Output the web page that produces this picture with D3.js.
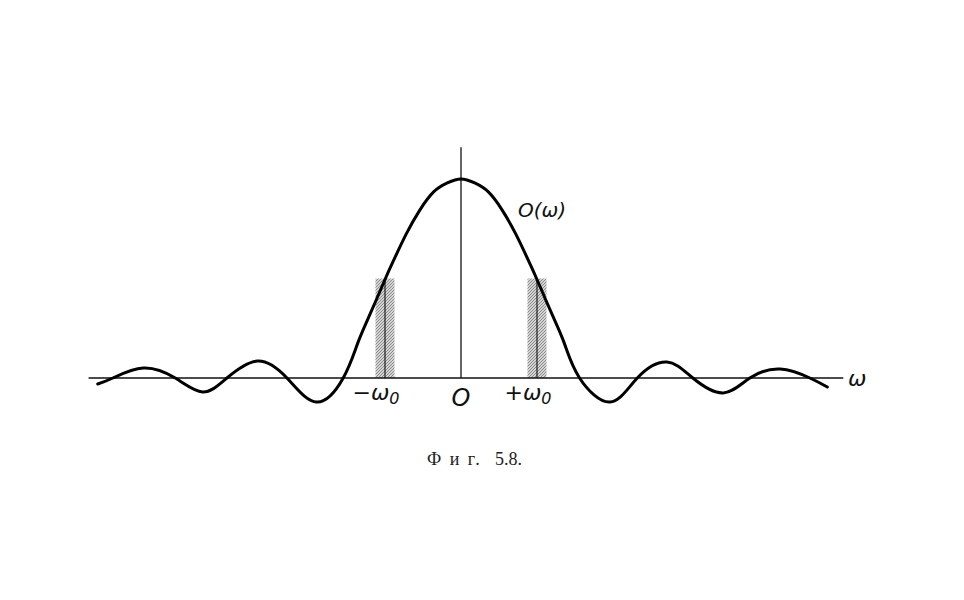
<!DOCTYPE html>
<html>
<head>
<meta charset="utf-8">
<script src="https://cdn.jsdelivr.net/npm/d3@7"></script>
<style>
  body { margin: 0; background: #fff; }
  svg { display: block; }
  .lbl { font-family: "DejaVu Sans", sans-serif; font-style: oblique; fill: #111; }
  .cap { font-family: "Liberation Serif", serif; fill: #222; }
</style>
</head>
<body>
<svg id="chart" width="964" height="600"></svg>
<script>
// curve O(w), w in units of w0, O normalised to 1 at w = 0
const omega = [-4.78, -4.58, -4.18, -3.76, -3.40, -3.08, -2.68, -2.29, -1.90, -1.55,
  -1.36, -1.20, -1.00, -0.90, -0.72, -0.54, -0.36, -0.18, 0,
  0.18, 0.36, 0.54, 0.72, 0.90, 1.00, 1.20, 1.36, 1.56,
  1.96, 2.32, 2.71, 3.05, 3.45, 3.80, 4.20, 4.59, 4.82];
const response = [-0.030, 0, 0.050, 0, -0.070, 0, 0.085, 0, -0.121, 0,
  0.174, 0.318, 0.495, 0.580, 0.724, 0.845, 0.935, 0.980, 1,
  0.980, 0.935, 0.845, 0.724, 0.580, 0.495, 0.318, 0.174, 0,
  -0.121, 0, 0.080, 0, -0.075, 0, 0.045, 0, -0.045];

// shaded bands at -w0 and +w0
const bandCentres = [-1, 1];
const bandWidth = 0.25;
const bandHeight = 0.50;

const axisRange = [-4.9, 5.03];
const axisTop = 1.16;

const tickLabels = [
  { w: -1, text: "−ω", sub: "0" },
  { w: 0, text: "O", sub: "" },
  { w: 1, text: "+ω", sub: "0" }
];

const svg = d3.select("#chart");
const x = d3.scaleLinear().domain([0, 1]).range([461, 537]);
const y = d3.scaleLinear().domain([0, 1]).range([378, 179]);

// hatch pattern for the bands
const defs = svg.append("defs");
const pat = defs.append("pattern")
  .attr("id", "hatch").attr("patternUnits", "userSpaceOnUse")
  .attr("width", 3).attr("height", 3);
pat.append("rect").attr("width", 3).attr("height", 3).attr("fill", "#d4d4d4");
pat.append("path").attr("d", "M0,3 L3,0 M-1,1 L1,-1 M2,4 L4,2")
  .attr("stroke", "#6a6a6a").attr("stroke-width", 0.7);

svg.selectAll("rect.band")
  .data(bandCentres)
  .enter().append("rect")
  .attr("class", "band")
  .attr("x", d => x(d - bandWidth / 2))
  .attr("width", x(bandWidth) - x(0))
  .attr("y", y(bandHeight))
  .attr("height", y(0) - y(bandHeight))
  .attr("fill", "url(#hatch)");

svg.selectAll("line.mark")
  .data(bandCentres)
  .enter().append("line")
  .attr("class", "mark")
  .attr("x1", d => x(d)).attr("x2", d => x(d))
  .attr("y1", y(bandHeight)).attr("y2", y(0))
  .attr("stroke", "#111").attr("stroke-width", 1.1);

// axes
svg.append("line")
  .attr("x1", x(axisRange[0])).attr("x2", x(axisRange[1]))
  .attr("y1", y(0)).attr("y2", y(0))
  .attr("stroke", "#111").attr("stroke-width", 1.6);
svg.append("line")
  .attr("x1", x(0)).attr("x2", x(0))
  .attr("y1", y(0)).attr("y2", y(axisTop))
  .attr("stroke", "#111").attr("stroke-width", 1.3);

// curve
const pts = omega.map((w, i) => [w, response[i]]);
const line = d3.line()
  .x(d => x(d[0])).y(d => y(d[1]))
  .curve(d3.curveNatural);
svg.append("path")
  .datum(pts)
  .attr("d", line)
  .attr("fill", "none")
  .attr("stroke", "#000")
  .attr("stroke-width", 3)
  .attr("stroke-linecap", "round");

// tick labels
tickLabels.forEach(t => {
  const tx = svg.append("text").attr("class", "lbl")
    .attr("x", x(t.w)).attr("dx", t.sub ? -9 : 0)
    .attr("y", t.sub ? 400 : 406)
    .attr("text-anchor", "middle")
    .attr("font-size", t.sub ? 22 : 24);
  tx.append("tspan").text(t.text);
  if (t.sub) tx.append("tspan").attr("font-size", 16).attr("dy", 4).text(t.sub);
});

// axis name and curve name
svg.append("text").attr("class", "lbl")
  .attr("x", 848).attr("y", 386).attr("font-size", 22).text("ω");
svg.append("text").attr("class", "lbl")
  .attr("x", 518).attr("y", 217).attr("font-size", 20).text("O(ω)");

// caption
const cap = svg.append("text").attr("class", "cap")
  .attr("y", 465).attr("font-size", 18);
cap.append("tspan").attr("x", 427).attr("letter-spacing", 2).text("Ф и г.");
cap.append("tspan").attr("x", 495).text("5.8.");
</script>
</body>
</html>
